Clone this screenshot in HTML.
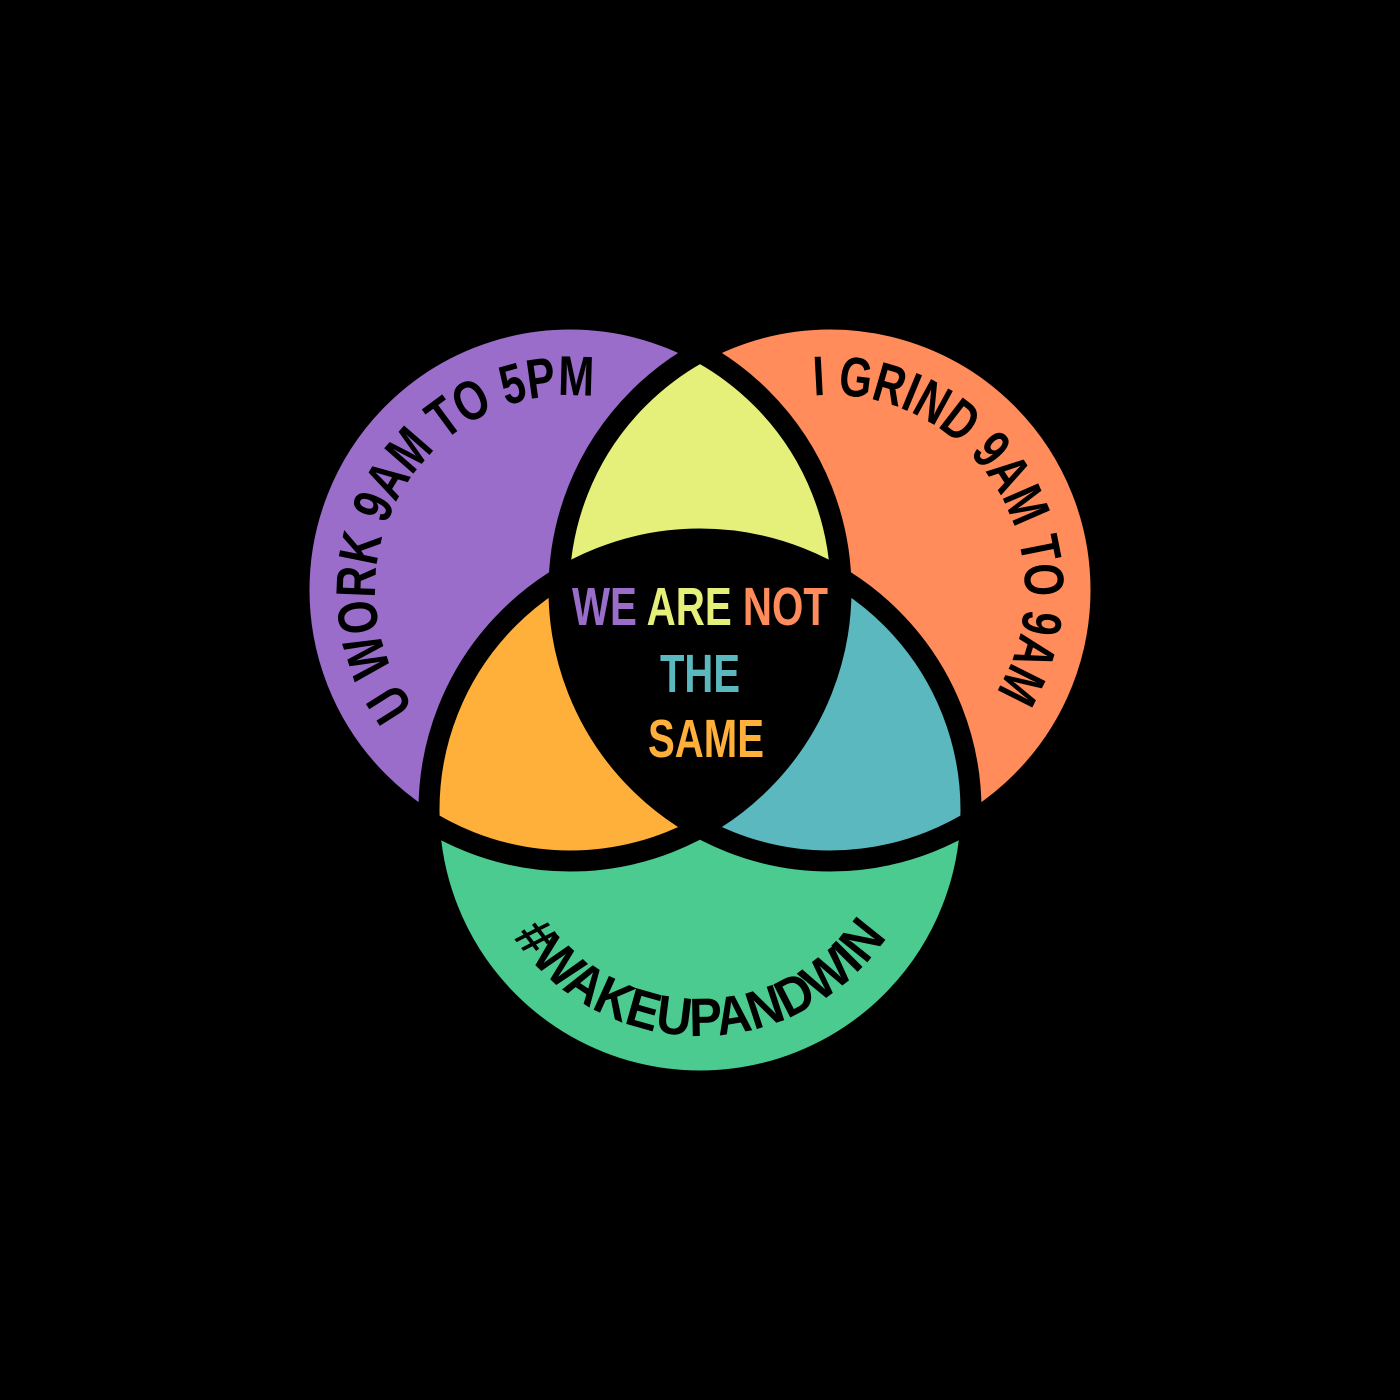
<!DOCTYPE html>
<html><head><meta charset="utf-8"><style>html,body{margin:0;padding:0;background:#000}svg{display:block}</style></head>
<body>
<svg width="1400" height="1400" viewBox="0 0 1400 1400" xmlns="http://www.w3.org/2000/svg">
<defs>
<clipPath id="cp"><circle cx="570" cy="590" r="271"/></clipPath>
<clipPath id="co"><circle cx="830" cy="590" r="271"/></clipPath>
<path id="pp" d="M503.3,773.3 A195,195 0 1 1 695.4,440.6"/>
<path id="po" d="M700.7,444 A195,195 0 1 1 901.5,771.4"/>
<path id="pg" d="M477.4,770.8 A226,226 0 1 0 922.6,770.8"/>
</defs>
<rect width="1400" height="1400" fill="#000"/>
<circle cx="570" cy="590" r="271" fill="#9A6DCB"/>
<circle cx="830" cy="590" r="271" fill="#FF8C5A"/>
<circle cx="700" cy="810" r="271" fill="#4BCB8F"/>
<g clip-path="url(#cp)"><circle cx="830" cy="590" r="271" fill="#E5F07A"/></g>
<g clip-path="url(#cp)"><circle cx="700" cy="810" r="271" fill="#FFB03B"/></g>
<g clip-path="url(#co)"><circle cx="700" cy="810" r="271" fill="#5BB8BE"/></g>
<g clip-path="url(#cp)"><g clip-path="url(#co)"><circle cx="700" cy="810" r="271" fill="#000"/></g></g>
<g fill="none" stroke="#000" stroke-width="21">
<circle cx="570" cy="590" r="271"/>
<circle cx="830" cy="590" r="271"/>
<circle cx="700" cy="810" r="271"/>
</g>
<g font-family="'Liberation Sans',sans-serif" font-weight="bold" font-size="56" fill="#000">
<text><textPath href="#pp" startOffset="50%" text-anchor="middle" textLength="455" lengthAdjust="spacingAndGlyphs">U WORK 9AM TO 5PM</textPath></text>
<text><textPath href="#po" startOffset="50%" text-anchor="middle" textLength="430" lengthAdjust="spacingAndGlyphs">I GRIND 9AM TO 9AM</textPath></text>
<text font-size="54"><textPath href="#pg" startOffset="50%" text-anchor="middle" textLength="440" lengthAdjust="spacingAndGlyphs">#WAKEUPANDWIN</textPath></text>
</g>
<g font-family="'Liberation Sans',sans-serif" font-weight="bold" font-size="54" text-anchor="middle">
<text x="700" y="625" textLength="256" lengthAdjust="spacingAndGlyphs"><tspan fill="#9A6DCB">WE </tspan><tspan fill="#E5F07A">ARE </tspan><tspan fill="#FF8C5A">NOT</tspan></text>
<text x="700" y="692" fill="#5BB8BE" textLength="80" lengthAdjust="spacingAndGlyphs">THE</text>
<text x="706" y="757" fill="#FFB03B" textLength="116" lengthAdjust="spacingAndGlyphs">SAME</text>
</g>
</svg>
</body></html>
